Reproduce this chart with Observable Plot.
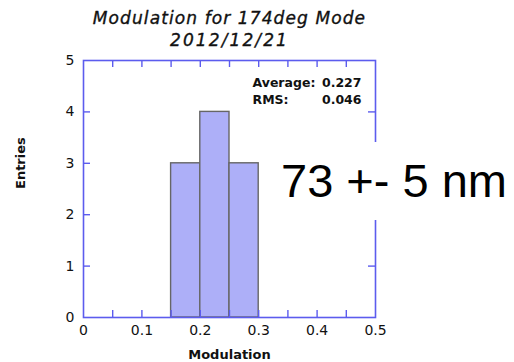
<!DOCTYPE html>
<html>
<head>
<meta charset="utf-8">
<script src="https://cdn.jsdelivr.net/npm/d3@7"></script>
<script src="https://cdn.jsdelivr.net/npm/@observablehq/plot@0.6"></script>
<style>
  html, body { margin: 0; padding: 0; background: #fff; }
  #wrap { position: relative; width: 514px; height: 362px; }
  #note {
    position: absolute; left: 276px; top: 142px; width: 238px; height: 78px;
    background: #fff; font-family: "Liberation Sans", Arial, sans-serif;
    font-size: 47px; line-height: 78px; color: #000; padding-left: 5px; box-sizing: border-box;
    white-space: nowrap;
  }
</style>
</head>
<body>
<div id="wrap"></div>
<script>
// ---- data ----
const binStart = [0.15, 0.20, 0.25];
const binEnd   = [0.20, 0.25, 0.30];
const entries  = [3, 4, 3];
const xTickLabels = [0, 0.1, 0.2, 0.3, 0.4, 0.5];
const xMinorTicks = [0.05, 0.1, 0.15, 0.2, 0.25, 0.3, 0.35, 0.4, 0.45];
const yTickLabels = [0, 1, 2, 3, 4, 5];
const yInnerTicks = [1, 2, 3, 4];
const titleLines = ["Modulation for 174deg Mode", "2012/12/21"];
const statLabels = ["Average:", "RMS:"];
const statValues = ["0.227", "0.046"];
const xLabel = "Modulation";
const yLabel = "Entries";
const note = "73 +- 5 nm";

const bins = binStart.map((s, i) => ({x1: s, x2: binEnd[i], n: entries[i]}));

const W = 514, H = 362;
const mL = 83, mR = 139, mT = 60, mB = 45;
const innerW = W - mL - mR, innerH = H - mT - mB;
const frameColor = "#5c5cee";
const tickLen = 7;

const chart = Plot.plot({
  width: W, height: H,
  marginLeft: mL, marginRight: mR, marginTop: mT, marginBottom: mB,
  style: {fontFamily: "'DejaVu Sans', Verdana, sans-serif", color: "#111", background: "#fff"},
  x: {domain: [0, 0.5]},
  y: {domain: [0, 5]},
  marks: [
    Plot.rectY(bins, {x1: "x1", x2: "x2", y1: 0, y2: "n", fill: "#adaff8", stroke: "#666", strokeWidth: 1.4}),
    // inward ticks
    Plot.tickX(xMinorTicks, {x: d => d, stroke: frameColor, strokeWidth: 1.4, insetTop: innerH - tickLen}),
    Plot.tickX(xMinorTicks, {x: d => d, stroke: frameColor, strokeWidth: 1.4, insetBottom: innerH - tickLen}),
    Plot.tickY(yInnerTicks, {y: d => d, stroke: frameColor, strokeWidth: 1.4, insetRight: innerW - tickLen}),
    Plot.tickY(yInnerTicks, {y: d => d, stroke: frameColor, strokeWidth: 1.4, insetLeft: innerW - tickLen}),
    Plot.frame({stroke: frameColor, strokeWidth: 1.6}),
    Plot.axisX({ticks: xTickLabels, tickSize: 0, tickPadding: 8, fontSize: 14, label: null, tickFormat: d => String(d)}),
    Plot.axisY({ticks: yTickLabels, tickSize: 0, tickPadding: 9, fontSize: 14, label: null, tickFormat: d => String(d)}),
    // titles
    Plot.text([titleLines[0]], {frameAnchor: "top", lineAnchor: "bottom", dy: -37, fontSize: 17, fontStyle: "italic", fill: "#111", stroke: "#111", strokeWidth: 0.35}),
    Plot.text([titleLines[1]], {frameAnchor: "top", lineAnchor: "bottom", dy: -15, fontSize: 17, fontStyle: "italic", fill: "#111", stroke: "#111", strokeWidth: 0.35}),
    // stats box
    Plot.text([statLabels.join("\n")], {frameAnchor: "top-right", textAnchor: "start", lineAnchor: "top", dx: -123, dy: 15, fontSize: 12.5, fontWeight: "bold", lineHeight: 1.32}),
    Plot.text([statValues.join("\n")], {frameAnchor: "top-right", textAnchor: "end", lineAnchor: "top", dx: -14, dy: 15, fontSize: 12.5, fontWeight: "bold", lineHeight: 1.32}),
    // axis labels
    Plot.text([xLabel], {frameAnchor: "bottom", lineAnchor: "bottom", dy: 41, fontSize: 13, fontWeight: "bold"}),
    Plot.text([yLabel], {frameAnchor: "left", rotate: -90, dx: -63, fontSize: 13, fontWeight: "bold"})
  ]
});

// widen the title lettering like the original
d3.select(chart).selectAll("text")
  .filter(function() { return this.textContent === titleLines[0]; })
  .style("letter-spacing", "1.1px");
d3.select(chart).selectAll("text")
  .filter(function() { return this.textContent === titleLines[1]; })
  .style("letter-spacing", "2.1px");

const wrap = document.getElementById("wrap");
wrap.appendChild(chart);
const div = document.createElement("div");
div.id = "note";
div.textContent = note;
wrap.appendChild(div);
</script>
</body>
</html>
